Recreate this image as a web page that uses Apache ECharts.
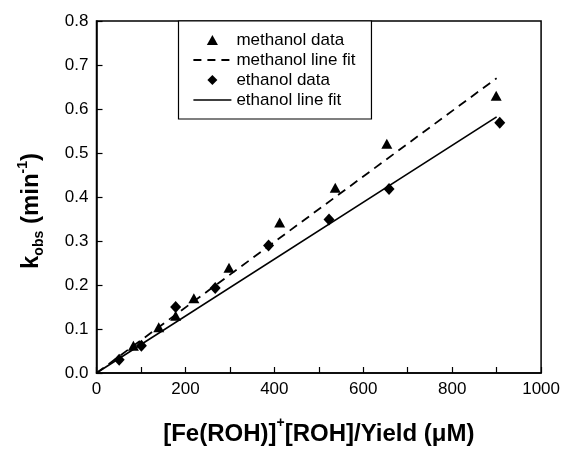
<!DOCTYPE html>
<html>
<head>
<meta charset="utf-8">
<script src="https://cdn.jsdelivr.net/npm/echarts@6/dist/echarts.min.js"></script>
<style>html,body{margin:0;padding:0;background:#fff}#c{width:563px;height:451px}</style>
</head>
<body>
<div id="c"></div>
<script>
var methanolData = [[83,0.062],[140,0.104],[178,0.130],[219,0.170],[298,0.239],[412,0.342],[537,0.421],[653,0.521],[899,0.630]];
var ethanolData = [[51,0.030],[101,0.062],[178,0.150],[267,0.193],[387,0.290],[523,0.349],[658,0.418],[907,0.569]];
var methanolFit = [[0,0],[900,0.670]];
var ethanolFit = [[0,0],[900,0.582]];
var xTicks = [0,200,400,600,800,1000];
var yTicks = [0.0,0.1,0.2,0.3,0.4,0.5,0.6,0.7,0.8];

var F = 'Liberation Sans, Arial, sans-serif';
var TRI = 'path://M5,0 L10,9 L0,9 Z';
var DIA = 'path://M5,0 L10,5 L5,10 L0,5 Z';
var chart = echarts.init(document.getElementById('c'), null, {renderer:'canvas'});
chart.setOption({
  animation:false,
  backgroundColor:'#fff',
  grid:{left:96.5, right:21.5, top:21, bottom:70, show:true, borderColor:'#000', borderWidth:1.5, backgroundColor:'transparent'},
  xAxis:{
    type:'value', min:0, max:1000, interval:100,
    axisLine:{lineStyle:{color:'#000', width:1.5}},
    axisTick:{inside:true, length:6, lineStyle:{color:'#000', width:1.2}},
    splitLine:{show:false},
    axisLabel:{color:'#000', fontFamily:F, fontSize:17, margin:8,
      formatter:function(v){ return xTicks.indexOf(v) >= 0 ? String(v) : ''; }},
    name:'{n|[Fe(ROH)]}{s|+}{n|[ROH]/Yield (μM)}',
    nameLocation:'middle', nameGap:43,
    nameTextStyle:{rich:{
      n:{fontFamily:F, fontSize:24, fontWeight:'bold', color:'#000', lineHeight:30, verticalAlign:'bottom'},
      s:{fontFamily:F, fontSize:14, fontWeight:'bold', color:'#000', lineHeight:30, verticalAlign:'top'}
    }}
  },
  yAxis:{
    type:'value', min:0, max:0.8, interval:0.1,
    axisLine:{lineStyle:{color:'#000', width:1.5}},
    axisTick:{inside:true, length:6, lineStyle:{color:'#000', width:1.2}},
    splitLine:{show:false},
    axisLabel:{color:'#000', fontFamily:F, fontSize:17, margin:8,
      formatter:function(v){ return yTicks.indexOf(Math.round(v*10)/10) >= 0 ? v.toFixed(1) : ''; }},
    name:'{n|k}{b|obs}{n| (min}{p|-1}{n|)}',
    nameLocation:'middle', nameGap:50, nameRotate:90,
    nameTextStyle:{padding:[0,28,0,0], rich:{
      n:{fontFamily:F, fontSize:24, fontWeight:'bold', color:'#000', lineHeight:30, verticalAlign:'middle'},
      b:{fontFamily:F, fontSize:14, fontWeight:'bold', color:'#000', lineHeight:30, verticalAlign:'bottom'},
      p:{fontFamily:F, fontSize:14, fontWeight:'bold', color:'#000', lineHeight:30, verticalAlign:'top'}
    }}
  },
  legend:{
    orient:'vertical', left:178.5, top:21,
    padding:[9,16,9,14], itemGap:0, itemWidth:38, itemHeight:10,
    symbolKeepAspect:true,
    backgroundColor:'#fff', borderColor:'#000', borderWidth:1.2, borderRadius:0,
    textStyle:{fontFamily:F, fontSize:17, color:'#000', lineHeight:20},
    data:[
      {name:'methanol data', icon:TRI, itemStyle:{color:'#000'}},
      {name:'methanol line fit', itemStyle:{opacity:0}, lineStyle:{color:'#000', width:1.8, type:[8,6], opacity:1}},
      {name:'ethanol data', icon:DIA, itemStyle:{color:'#000'}},
      {name:'ethanol line fit', itemStyle:{opacity:0}, lineStyle:{color:'#000', width:1.6, type:'solid', opacity:1}}
    ]
  },
  series:[
    {name:'methanol data', type:'scatter', data:methanolData, symbol:'triangle', symbolSize:[11,10], itemStyle:{color:'#000', opacity:1}, z:5},
    {name:'methanol line fit', type:'line', data:methanolFit, showSymbol:false, symbol:'none',
      lineStyle:{color:'#000', width:1.8, type:[9,6]}, itemStyle:{color:'#000'}},
    {name:'ethanol data', type:'scatter', data:ethanolData, symbol:'diamond', symbolSize:[11,12], itemStyle:{color:'#000', opacity:1}, z:5},
    {name:'ethanol line fit', type:'line', data:ethanolFit, showSymbol:false, symbol:'none',
      lineStyle:{color:'#000', width:1.6, type:'solid'}, itemStyle:{color:'#000'}}
  ]
});
</script>
</body>
</html>
